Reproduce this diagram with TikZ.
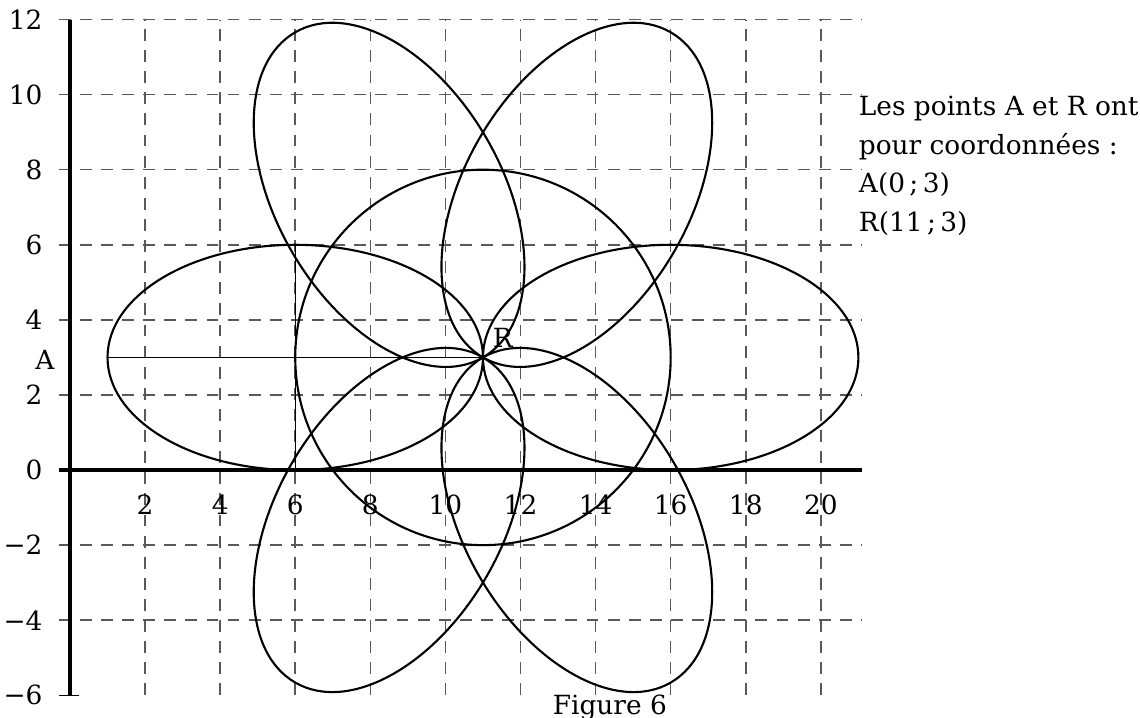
\documentclass[tikz,border=0pt]{standalone}
\usepackage{fontspec}
\setmainfont{DejaVu Serif}
\usetikzlibrary{positioning}

\begin{document}
\begin{tikzpicture}[x=0.5cm,y=0.5cm,font=\fontsize{10}{14.7}\selectfont,
  quadr/.style={dash pattern=on 4.5pt off 3.5pt,black!65,line width=0.6pt},
  axe/.style={line width=1.5pt},
  petale/.style={line width=0.8pt}]
  \useasboundingbox (-1.864,-6.58) rectangle (28.50,12.52);
  % quadrillage
  \foreach \x in {2,4,...,20} \draw[quadr] (\x,-6) -- (\x,12);
  \foreach \y in {-4,-2,...,12} \draw[quadr] (-0.3,\y) -- (21.1,\y);
  % axes
  \draw[axe] (0,-6) -- (0,12);
  \draw[axe] (-0.3,0) -- (21.1,0);
  \draw[line width=0.6pt] (-0.3,-6) -- (0.25,-6);
  \foreach \x in {2,4,...,20} \node (gx\x) at (\x,-0.93) {\x};
  \foreach \y/\t in {-6/−6,-4/−4,-2/−2,0/0,2/2,4/4,6/6,8/8,10/10,12/12}
    \node[anchor=east,inner sep=0pt] (gy\y) at (-0.72,\y) {\t};
  % points
  \coordinate (R) at (11,3);
  \coordinate (Aext) at (1,3);
  \coordinate (H0) at (6,0);
  \coordinate (H6) at (6,6);
  \node (labA) at (-0.67,2.93) {A};
  \node (labR) at (11.53,3.52) {R};
  \draw[line width=0.5pt] (Aext) -- (R);
  \draw[line width=0.5pt] (H0) -- (H6);
  % rosace
  \foreach \a in {0,60,...,300}
    \draw[petale,rotate around={\a:(11,3)}] (16,3) ellipse (5 and 3);
  \draw[petale] (R) circle (5);
  % textes
  \node[anchor=north west,align=left,inner sep=0pt] (texte) at (21,9.98)
    {Les points A et R ont\\pour coordonnées :\\A(0\,;\,3)\\R(11\,;\,3)};
  \node (fig) at (14.38,-6.33) {Figure 6};
\end{tikzpicture}
\end{document}
